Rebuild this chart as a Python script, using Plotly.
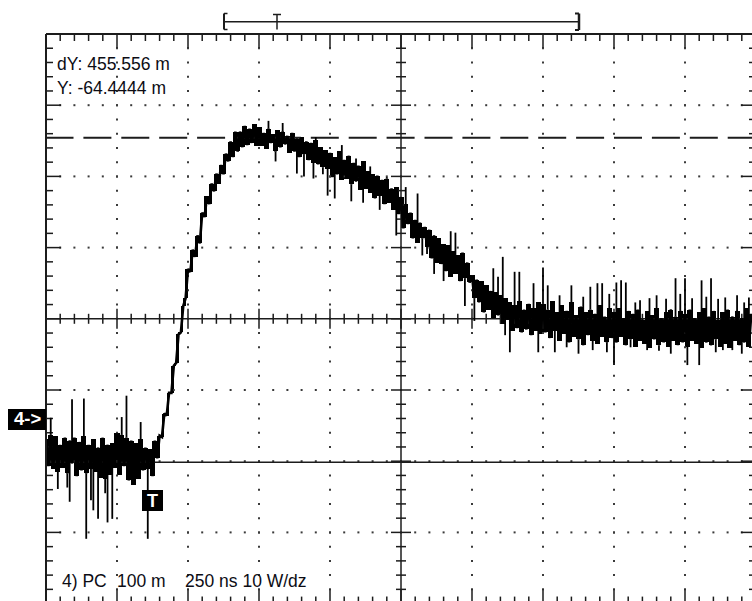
import numpy as np
import plotly.graph_objects as go

# ---------------- data ----------------
t_start_ns = -375.0            # left screen edge, relative to trigger
sample_ns = 250.0 / 30         # sample interval of the trace
ns_per_div = 250.0
mv_per_div = 100.0
screen_center_mv = 137.0
cursor_y_mv = -64.4444
cursor_dy_mv = 455.556

# noise band of the waveform, one list per horizontal division (mV)
div0 = [-32, -70, -26, -74, -28, -78, -40, -72, -30, -80, -34, -66, -30, -84, -36,
        -76, -28, -80, -40, -74, -32, -78, -44, -86, -30, -88, -40, -82, -38, -72]
div1 = [-24, -82, -26, -70, -30, -90, -34, -96, -38, -88, -32, -76, -44, -74, -46,
        -84, -34, -59, -27, -29, 4, 1, 33, 33, 71, 75, 115, 118, 155, 166]
div2 = [207, 203, 234, 224, 254, 243, 286, 280, 309, 298, 327, 316, 341, 327, 353,
        340, 369, 358, 386, 364, 400, 372, 400, 378, 408, 381, 404, 384, 410, 380]
div3 = [406, 380, 398, 376, 404, 384, 396, 372, 402, 378, 400, 382, 394, 370, 398,
        372, 390, 364, 392, 368, 386, 360, 384, 356, 388, 354, 378, 350, 374, 348]
div4 = [370, 336, 364, 340, 372, 332, 360, 334, 366, 326, 356, 330, 352, 318, 358,
        320, 344, 314, 340, 306, 338, 310, 332, 298, 334, 300, 320, 290, 322, 284]
div5 = [308, 264, 298, 270, 286, 250, 276, 244, 272, 250, 266, 238, 262, 222, 254,
        216, 250, 214, 242, 204, 240, 196, 232, 200, 226, 190, 230, 194, 216, 188]
div6 = [198, 166, 192, 160, 190, 146, 184, 150, 176, 138, 174, 142, 170, 130, 166,
        136, 160, 120, 156, 124, 162, 118, 150, 122, 158, 114, 152, 120, 160, 116]
div7 = [158, 118, 150, 110, 162, 120, 146, 106, 156, 116, 148, 104, 160, 112, 142,
        108, 154, 100, 146, 114, 150, 106, 144, 102, 156, 112, 140, 104, 152, 110]
div8 = [146, 104, 152, 112, 138, 100, 148, 108, 144, 98, 150, 106, 136, 102, 148,
        96, 142, 108, 152, 100, 138, 104, 146, 98, 150, 106, 140, 100, 148, 104]
div9 = [144, 98, 150, 106, 138, 102, 146, 96, 152, 104, 140, 100, 148, 108, 136,
        98, 146, 102, 150, 96, 140, 106, 148, 100, 138, 104, 152, 98, 144]
band_mv = div0 + div1 + div2 + div3 + div4 + div5 + div6 + div7 + div8 + div9

# isolated glitches: sample index and the value they reach (mV)
spike_index = [2, 5, 9, 10, 11, 16, 17, 19, 20, 22, 25, 26, 28,
               32, 34, 40, 43,
               94, 97, 100, 106, 109, 113, 114, 117, 119,
               122, 125, 129, 131, 134, 137, 141, 144, 148,
               152, 157, 159, 161, 164, 168, 171, 173, 177,
               181, 189, 191, 193, 194, 196, 198, 200, 206, 208,
               210, 212, 215, 217, 220, 222, 225, 227, 230, 231, 233, 235, 237, 238,
               240, 241, 243, 245, 247, 249, 251, 254, 255, 258, 259, 262, 264, 266, 268,
               270, 271, 273, 276, 277, 279, 281, 283, 284, 286, 287, 290, 292, 294, 295, 297]
spike_mv = [-2, -102, -100, -120, 24, 25, -172, -118, -132, -144, -108, -149, -144,
            -1, 29, -8, -172,
            415, 358, 412, 341, 337, 334, 392, 340, 310,
            306, 381, 302, 362, 300, 351, 290, 336, 254,
            322, 313, 226, 228, 200, 190, 260, 258, 155,
            134, 208, 196, 224, 114, 90, 203, 203, 187, 90,
            209, 184, 90, 170, 97, 184, 88, 168, 182, 93, 187, 187, 90, 172,
            72, 188, 191, 188, 97, 160, 163, 93, 166, 170, 92, 165, 88, 194, 172,
            194, 72, 166, 72, 191, 168, 194, 90, 165, 93, 167, 93, 170, 88, 160, 167]

readout_texts = ["dY: 455.556 m", "Y: -64.4444 m"]
status_texts = ["4) PC", "100 m", "250 ns 10 W/dz"]
channel_label = "4->"
trigger_label = "T"

# ---------------- geometry ----------------
W, H = 752, 601
L, TOP = 46, 34
DIVX = 71.0
DIVY = 71.2
PW, PH = W - L, H - TOP
ns_px = ns_per_div / DIVX
mv_px = mv_per_div / DIVY
x_lo = t_start_ns
x_hi = t_start_ns + PW * ns_px
y_hi = screen_center_mv + 4 * mv_per_div
y_lo = y_hi - PH * mv_px
x_right = t_start_ns + 10 * ns_per_div
y_bottom = screen_center_mv - 4 * mv_per_div
x_center = t_start_ns + 5 * ns_per_div
minor_x = ns_per_div / 5
minor_y = mv_per_div / 5


def xp(pix):
    return (pix - L) / PW


def yp(pix):
    return (H - pix) / PH


INK = "#1c1c1c"
TXT = "#0c0c14"
FONT = "Liberation Sans, Arial, sans-serif"

fig = go.Figure()

# waveform: each column spans the range between two consecutive samples
v = np.array(band_mv, dtype=float)
t_ns = t_start_ns + np.arange(len(v)) * sample_ns
lo = np.minimum(v[:-1], v[1:])
hi = np.maximum(v[:-1], v[1:])
fig.add_trace(go.Bar(x=(t_ns[:-1] + t_ns[1:]) / 2, base=lo, y=hi - lo,
                     width=sample_ns * 1.12, marker=dict(color="black", line=dict(width=0)),
                     hoverinfo="skip"))

# dotted graticule
dx, dy = [], []
for k in range(1, 10):
    if k == 5:
        continue
    for m in range(1, 40):
        dx.append(t_start_ns + k * ns_per_div)
        dy.append(y_hi - m * minor_y)
for r in range(1, 8):
    if r == 4:
        continue
    for n in range(1, 50):
        dx.append(t_start_ns + n * minor_x)
        dy.append(y_hi - r * mv_per_div)
fig.add_trace(go.Scatter(x=dx, y=dy, mode="markers", hoverinfo="skip",
                         marker=dict(symbol="square", size=2, color="#3a3a3a", line=dict(width=0))))

# center cross and ticks
tx, ty = [], []


def seg(x0, y0, x1, y1):
    tx.extend([x0, x1, None])
    ty.extend([y0, y1, None])


seg(x_lo, screen_center_mv, x_right, screen_center_mv)
seg(x_center, y_hi, x_center, y_bottom)
for n in range(1, 50):
    x = t_start_ns + n * minor_x
    major = n % 5 == 0
    h = (10 if major else 5) * mv_px
    seg(x, screen_center_mv - h, x, screen_center_mv + h)
    ln = (14 if major else 7) * mv_px
    seg(x, y_hi, x, y_hi - ln)
    seg(x, y_bottom, x, y_bottom + ln)
for m in range(1, 40):
    y = y_hi - m * minor_y
    major = m % 5 == 0
    h = (10 if major else 5) * ns_px
    seg(x_center - h, y, x_center + h, y)
    ln = (15 if major else 7) * ns_px
    seg(x_lo, y, x_lo + ln, y)
    seg(x_right, y, x_right - ln, y)
fig.add_trace(go.Scatter(x=tx, y=ty, mode="lines", hoverinfo="skip",
                         line=dict(color=INK, width=1.5)))

# cursors
fig.add_trace(go.Scatter(x=[x_lo - 0.5 * ns_px, x_right], y=[cursor_y_mv + cursor_dy_mv] * 2,
                         mode="lines", hoverinfo="skip",
                         line=dict(color=INK, width=2, dash="28px,9.9px")))
fig.add_trace(go.Scatter(x=[x_lo, x_right], y=[cursor_y_mv] * 2, mode="lines", hoverinfo="skip",
                         line=dict(color=INK, width=1.5)))

# waveform outline and glitches
fig.add_trace(go.Scatter(x=t_ns, y=v, mode="lines", hoverinfo="skip",
                         line=dict(color="black", width=2.6, simplify=False)))
sx, sy = [], []
for idx, val in zip(spike_index, spike_mv):
    sx.extend([t_ns[idx], t_ns[idx], None])
    sy.extend([v[idx], val, None])
fig.add_trace(go.Scatter(x=sx, y=sy, mode="lines", hoverinfo="skip",
                         line=dict(color="black", width=1.8)))

shapes = []


def pline(x0, y0, x1, y1, w=1.5):
    shapes.append(dict(type="line", xref="paper", yref="paper", x0=xp(x0), y0=yp(y0),
                       x1=xp(x1), y1=yp(y1), line=dict(color=INK, width=w)))


# border lines (left, top)
shapes.append(dict(type="line", xref="paper", yref="paper", x0=0, x1=0, y0=0, y1=1,
                   line=dict(color=INK, width=2)))
shapes.append(dict(type="line", xref="paper", yref="paper", x0=0, x1=1, y0=1, y1=1,
                   line=dict(color=INK, width=2)))

# record bracket on top
pline(224, 21.7, 578, 21.7)
pline(224, 13.5, 224, 29.5, 2)
pline(224, 13.5, 227.5, 13.5)
pline(224, 29.5, 227.5, 29.5)
pline(277, 14.5, 277, 29.5)
pline(273, 14.5, 281, 14.5)
pline(579, 13.5, 579, 30, 2.5)
pline(575, 13.5, 579, 13.5, 2)
pline(575, 30, 579, 30, 2)

# channel marker and trigger marker boxes
for (a, b, c, d) in [(8, 409, 46, 430), (142, 490, 163, 511)]:
    shapes.append(dict(type="rect", xref="paper", yref="paper", x0=xp(a), x1=xp(c),
                       y0=yp(d), y1=yp(b), fillcolor="black", line=dict(width=0), layer="above"))

annotations = []


def text(s, x, y, size=17.5, color=TXT, xanchor="left", bold=False):
    annotations.append(dict(text=("<b>%s</b>" % s) if bold else s, xref="paper", yref="paper",
                            x=xp(x), y=yp(y), xanchor=xanchor, yanchor="middle",
                            showarrow=False, font=dict(family=FONT, size=size, color=color),
                            borderpad=0))


text(readout_texts[0], 55.5, 64.5)
text(readout_texts[1], 55.5, 87.5)
text(status_texts[0], 60.5, 581)
text(status_texts[1], 115.5, 581)
text(status_texts[2], 184, 581)
text(channel_label, 27.5, 418.5, size=18.5, color="white", xanchor="center", bold=True)
text(trigger_label, 152.5, 501, size=18, color="white", xanchor="center", bold=True)

fig.update_layout(
    width=W, height=H,
    margin=dict(l=L, r=0, t=TOP, b=0, pad=0),
    paper_bgcolor="white", plot_bgcolor="white", showlegend=False,
    bargap=0,
    xaxis=dict(range=[x_lo, x_hi], visible=False, fixedrange=True),
    yaxis=dict(range=[y_lo, y_hi], visible=False, fixedrange=True),
    shapes=shapes, annotations=annotations,
)

fig.write_html("out.html", config={"displayModeBar": False},
               post_script="document.body.style.margin='0';document.body.style.overflow='hidden';")
